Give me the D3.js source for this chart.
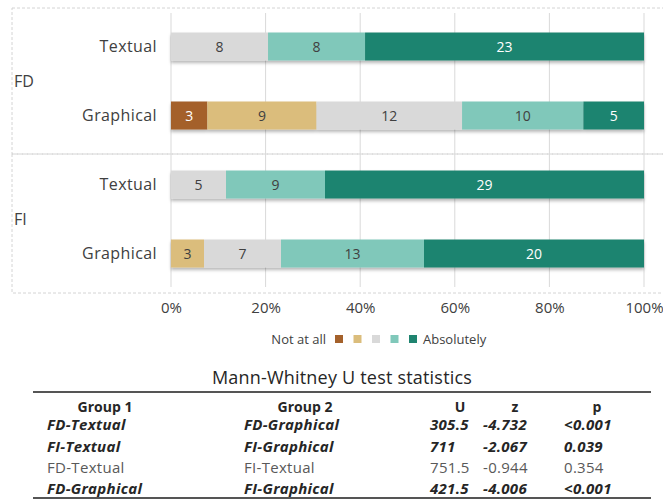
<!DOCTYPE html>
<html>
<head>
<meta charset="utf-8">
<script src="https://cdn.jsdelivr.net/npm/d3@7"></script>
<style>
  html, body { margin: 0; padding: 0; background: #fff; }
  svg { display: block; font-family: "Open Sans", "DejaVu Sans", sans-serif; }
</style>
</head>
<body>
<svg id="chart" width="663" height="500"></svg>
<script>
// ---------- DATA ----------
const groups = ["FD", "FI"];
const categories = ["Textual", "Graphical"];
const levels = ["Not at all", "2", "3", "4", "Absolutely"];
const fdTextual   = [0, 0, 8, 8, 23];
const fdGraphical = [3, 9, 12, 10, 5];
const fiTextual   = [0, 0, 5, 9, 29];
const fiGraphical = [0, 3, 7, 13, 20];
const xTicks = [0, 0.2, 0.4, 0.6, 0.8, 1.0];

const tableTitle = "Mann-Whitney U test statistics";
const tableHeaders = ["Group 1", "Group 2", "U", "z", "p"];
const group1 = ["FD-Textual", "FI-Textual", "FD-Textual", "FD-Graphical"];
const group2 = ["FD-Graphical", "FI-Graphical", "FI-Textual", "FI-Graphical"];
const uVals = ["305.5", "711", "751.5", "421.5"];
const zVals = ["-4.732", "-2.067", "-0.944", "-4.006"];
const pVals = ["<0.001", "0.039", "0.354", "<0.001"];
const significant = [true, true, false, true];

// ---------- STYLE ----------
const colors = ["#A4612B", "#DBBD7C", "#D9D9D9", "#80C8BA", "#1F8470"];
const textOnBar = ["#ffffff", "#404040", "#404040", "#404040", "#ffffff"];

const rowsData = [
  { group: "FD", cat: "Textual", vals: fdTextual },
  { group: "FD", cat: "Graphical", vals: fdGraphical },
  { group: "FI", cat: "Textual", vals: fiTextual },
  { group: "FI", cat: "Graphical", vals: fiGraphical }
].map(d => ({ ...d, id: d.group + "-" + d.cat }));

const svg = d3.select("#chart");

const defs = svg.append("defs");
const f = defs.append("filter").attr("id", "shadow").attr("x", "-5%").attr("y", "-20%").attr("width", "110%").attr("height", "160%");
f.append("feDropShadow").attr("dx", 0).attr("dy", 2.5).attr("stdDeviation", 1.5).attr("flood-color", "#000").attr("flood-opacity", 0.28);

const x = d3.scaleLinear().domain([0, 1]).range([171, 644]);
const y = d3.scaleBand().domain(rowsData.map(d => d.id)).range([12, 288]).paddingInner(0.594).paddingOuter(0.297);

// group boxes (dashed)
const gbox = [
  { g: "FD", y0: 8, y1: 154 },
  { g: "FI", y0: 154, y1: 293 }
];
svg.append("g").selectAll("rect").data(gbox).join("rect")
  .attr("x", 12).attr("y", d => d.y0).attr("width", 700).attr("height", d => d.y1 - d.y0)
  .attr("fill", "none").attr("stroke", "#d4d4d4").attr("stroke-width", 1).attr("stroke-dasharray", "3,2");

// grid lines
svg.append("g").selectAll("line").data(xTicks).join("line")
  .attr("x1", d => x(d)).attr("x2", d => x(d))
  .attr("y1", 13).attr("y2", 287)
  .attr("stroke", "#d9d9d9").attr("stroke-width", 1);

// axis labels
const xAxis = d3.axisBottom(x).tickValues(xTicks).tickFormat(d3.format(".0%")).tickSize(0).tickPadding(0);
const axG = svg.append("g").attr("transform", "translate(0,300)").call(xAxis);
axG.select(".domain").remove();
axG.selectAll("text").attr("font-size", 15).attr("fill", "#404040").attr("dy", "0.85em")
  .attr("font-family", "'Open Sans', sans-serif");

// bars
const barG = svg.append("g").attr("filter", "url(#shadow)");
const labG = svg.append("g");
rowsData.forEach(r => {
  const total = d3.sum(r.vals);
  let cum = 0;
  const segs = r.vals.map((v, i) => {
    const s = { i, v, x0: cum / total, x1: (cum + v) / total };
    cum += v;
    return s;
  }).filter(s => s.v > 0);
  barG.selectAll(null).data(segs).join("rect")
    .attr("x", s => x(s.x0)).attr("width", s => x(s.x1) - x(s.x0))
    .attr("y", y(r.id)).attr("height", y.bandwidth())
    .attr("fill", s => colors[s.i]);
  labG.selectAll(null).data(segs).join("text")
    .attr("x", s => (x(s.x0) + x(s.x1)) / 2)
    .attr("y", y(r.id) + y.bandwidth() / 2)
    .attr("dy", "0.36em").attr("text-anchor", "middle")
    .attr("font-size", 14).attr("fill", s => textOnBar[s.i])
    .text(s => s.v);
});

// category labels
svg.append("g").selectAll("text").data(rowsData).join("text")
  .attr("x", 157).attr("y", d => y(d.id) + y.bandwidth() / 2).attr("dy", "0.36em")
  .attr("text-anchor", "end").attr("font-size", 16).attr("fill", "#404040")
  .attr("letter-spacing", 0.4)
  .text(d => d.cat);

// group labels
svg.append("g").selectAll("text").data(groups).join("text")
  .attr("x", 14)
  .attr("y", g => {
    const ids = rowsData.filter(r => r.group === g).map(r => y(r.id) + y.bandwidth() / 2);
    return d3.mean(ids);
  })
  .attr("dy", "0.36em").attr("font-size", 16).attr("fill", "#404040")
  .text(g => g);

// legend
const legY = 339;
svg.append("text").attr("x", 326).attr("y", legY).attr("dy", "0.36em").attr("text-anchor", "end")
  .attr("font-size", 13).attr("fill", "#404040").text(levels[0]);
const legX = d3.scalePoint().domain(d3.range(levels.length)).range([335, 409]);
svg.append("g").selectAll("rect").data(d3.range(levels.length)).join("rect")
  .attr("x", i => legX(i)).attr("y", legY - 4).attr("width", 8).attr("height", 8)
  .attr("fill", i => colors[i]);
svg.append("text").attr("x", 423).attr("y", legY).attr("dy", "0.36em")
  .attr("font-size", 13).attr("fill", "#404040").text(levels[levels.length - 1]);

// ---------- TABLE ----------
svg.append("text").attr("x", 342).attr("y", 378).attr("dy", "0.36em").attr("text-anchor", "middle")
  .attr("font-size", 18).attr("fill", "#262626").attr("letter-spacing", 0.2).text(tableTitle);

svg.append("line").attr("x1", 33).attr("x2", 651).attr("y1", 392).attr("y2", 392)
  .attr("stroke", "#555").attr("stroke-width", 2);
svg.append("line").attr("x1", 33).attr("x2", 651).attr("y1", 498).attr("y2", 498)
  .attr("stroke", "#555").attr("stroke-width", 2);

const headerX = [105, 305, 460, 515, 597];
const colX = [47, 244, 430, 483, 564];
svg.append("g").selectAll("text").data(tableHeaders).join("text")
  .attr("x", (d, i) => headerX[i]).attr("y", 407).attr("dy", "0.36em")
  .attr("text-anchor", "middle").attr("font-size", 14).attr("font-weight", "bold")
  .attr("fill", "#262626").text(d => d);

const rowY = d3.scalePoint().domain(d3.range(group1.length)).range([425, 489]);
const tableRows = group1.map((g, i) => [g, group2[i], uVals[i], zVals[i], pVals[i]]);
tableRows.forEach((row, ri) => {
  svg.append("g").selectAll("text").data(row).join("text")
    .attr("x", (d, i) => colX[i]).attr("y", rowY(ri)).attr("dy", "0.36em")
    .attr("font-size", 15).attr("letter-spacing", 0.3)
    .attr("font-weight", significant[ri] ? "bold" : "normal")
    .attr("font-style", significant[ri] ? "italic" : "normal")
    .attr("fill", significant[ri] ? "#262626" : "#595959")
    .text(d => d);
});
</script>
</body>
</html>
